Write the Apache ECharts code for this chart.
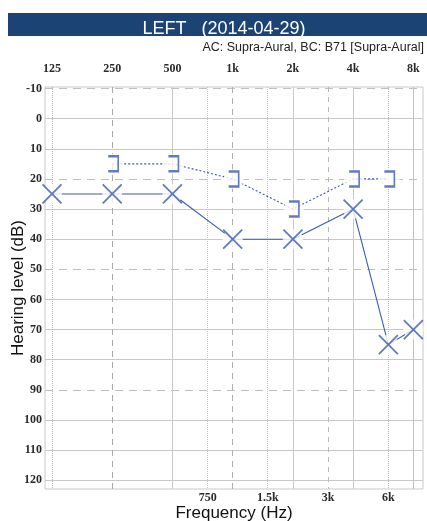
<!DOCTYPE html>
<html>
<head>
<meta charset="utf-8">
<script src="https://cdn.jsdelivr.net/npm/echarts@6/dist/echarts.min.js"></script>
<style>
html,body{margin:0;padding:0;background:#fff;}
#chart{width:427px;height:521px;}
</style>
</head>
<body>
<div id="chart"></div>
<script>
// ---- data ----
const acFreqs = [125, 250, 500, 1000, 2000, 4000, 6000, 8000];
const acLeft = [25, 25, 25, 40, 40, 30, 75, 70];
const bcFreqs = [250, 500, 1000, 2000, 4000, 6000];
const bcLeft = [15, 15, 20, 30, 20, 20];
const octaveFreqs = [125, 250, 500, 1000, 2000, 4000, 8000];
const octaveLabels = ['125', '250', '500', '1k', '2k', '4k', '8k'];
const halfFreqs = [750, 1500, 3000, 6000];
const halfLabels = ['750', '1.5k', '3k', '6k'];
const dbTicks = [-10, 0, 10, 20, 30, 40, 50, 60, 70, 80, 90, 100, 110, 120];

// ---- helpers ----
const oct = f => Math.log2(f / 125);
const BLUE = '#3a5ab2';
const labelFont = {fontFamily: 'Liberation Serif', fontSize: 12, color: '#2a2a2a', fontWeight: 'bold'};

function nearestLabel(v, freqs, labels) {
  let best = 0, bd = 1e9;
  freqs.forEach((f, i) => { const d = Math.abs(oct(f) - v); if (d < bd) { bd = d; best = i; } });
  return labels[best];
}

// grid line styles
const dashedDb = [-10, 20, 50, 90];
const vStyle = {
  125: {type: 'dotted', color: '#b8b8b8'},
  250: {type: [6, 5], color: '#a8a8a8'},
  500: {type: 'solid', color: '#c8c8c8'},
  750: {type: 'dotted', color: '#c4c4c4'},
  1000: {type: [6, 5], color: '#b0b0b0'},
  1500: {type: 'dotted', color: '#c4c4c4'},
  2000: {type: 'solid', color: '#c8c8c8'},
  3000: {type: [5, 5], color: '#b8b8b8'},
  4000: {type: 'solid', color: '#c8c8c8'},
  6000: {type: 'dotted', color: '#b8b8b8'},
  8000: {type: 'solid', color: '#c0c0c0'}
};
const gridMarks = [];
dbTicks.forEach(v => {
  const d = dashedDb.includes(v);
  gridMarks.push({yAxis: v, lineStyle: {color: d ? '#c0c0c0' : '#c8c8c8', type: d ? [8, 6] : 'solid', width: 1}});
});
octaveFreqs.concat(halfFreqs).forEach(f => {
  const s = vStyle[f];
  gridMarks.push({xAxis: oct(f), lineStyle: {color: s.color, type: s.type, width: 1}});
});

const acData = acFreqs.map((f, i) => [oct(f), acLeft[i]]);
const bcData = bcFreqs.map((f, i) => [oct(f), bcLeft[i]]);

const chart = echarts.init(document.getElementById('chart'));
chart.setOption({
  animation: false,
  title: {
    text: 'LEFT   (2014-04-29)',
    left: 219, top: 15, textAlign: 'center',
    textStyle: {color: '#fff', fontFamily: 'Liberation Sans', fontSize: 18, fontWeight: 'normal'}
  },
  graphic: [
    {type: 'rect', shape: {x: 8, y: 13, width: 419, height: 23}, style: {fill: '#1b4474'}, z: -1},
    {type: 'text', right: 3, top: 41, style: {text: 'AC: Supra-Aural, BC: B71 [Supra-Aural]', fill: '#222', font: '12.5px "Liberation Sans"'}}
  ],
  grid: {left: 45, right: 4, top: 87, bottom: 32, show: true, borderColor: '#c8c8c8', borderWidth: 1,
         outerBoundsMode: 'none', containLabel: false},
  xAxis: [
    {
      type: 'value', position: 'bottom', min: -0.116, max: 6.16,
      axisLine: {show: false}, axisTick: {show: false}, splitLine: {show: false},
      axisLabel: {customValues: halfFreqs.map(oct), margin: 3, ...labelFont,
        formatter: v => nearestLabel(v, halfFreqs, halfLabels)},
      name: 'Frequency (Hz)', nameLocation: 'middle', nameGap: 16, nameMoveOverlap: false,
      nameTextStyle: {fontFamily: 'Liberation Sans', fontSize: 17, color: '#111'}
    },
    {
      type: 'value', position: 'top', min: -0.116, max: 6.16,
      axisLine: {show: false}, axisTick: {show: false}, splitLine: {show: false},
      axisLabel: {customValues: octaveFreqs.map(oct), margin: 12, ...labelFont,
        formatter: v => nearestLabel(v, octaveFreqs, octaveLabels)}
    }
  ],
  yAxis: {
    type: 'value', inverse: true, min: -10.5, max: 122.9,
    axisLine: {show: false}, axisTick: {show: false}, splitLine: {show: false},
    axisLabel: {customValues: dbTicks, margin: 3, ...labelFont},
    name: 'Hearing level (dB)', nameLocation: 'middle', nameGap: 18, nameMoveOverlap: false,
    nameTextStyle: {fontFamily: 'Liberation Sans', fontSize: 17, color: '#111'}
  },
  series: [
    {
      type: 'line', data: [], silent: true, z: 1,
      markLine: {silent: true, symbol: ['none', 'none'], label: {show: false}, animation: false, data: gridMarks}
    },
    {
      name: 'AC line', type: 'line', z: 5, data: acData, showSymbol: false, silent: true,
      lineStyle: {color: BLUE, width: 1.1, type: 'solid'}
    },
    {
      name: 'BC line', type: 'line', z: 5, data: bcData, showSymbol: false, silent: true,
      lineStyle: {color: BLUE, width: 1.1, type: [2, 2]}
    },
    {
      type: 'scatter', z: 6, data: acData, symbol: 'circle', symbolSize: 20, silent: true,
      itemStyle: {color: '#fff'}
    },
    {
      type: 'scatter', z: 6, data: bcData, symbol: 'circle', symbolSize: 20, symbolOffset: [1, 0], silent: true,
      itemStyle: {color: '#fff'}
    },
    {
      name: 'AC', type: 'scatter', z: 7, data: acData,
      symbol: 'path://M0,0L20,20M20,0L0,20', symbolSize: 19,
      itemStyle: {color: 'none', borderColor: BLUE, borderWidth: 1.8}
    },
    {
      name: 'BC', type: 'scatter', z: 7, data: bcData,
      symbol: 'path://M0,0L9,0L9,15L0,15', symbolSize: [10, 15], symbolOffset: [1, 0],
      itemStyle: {color: 'none', borderColor: BLUE, borderWidth: 2}
    }
  ]
});
</script>
</body>
</html>
